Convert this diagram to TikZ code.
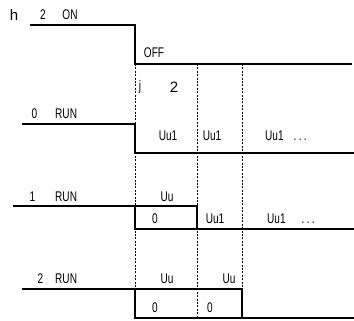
\documentclass[tikz,border=0pt]{standalone}
\usepackage{fontspec}
\setmainfont{Liberation Sans}[FakeStretch=0.72]
\newfontfamily\widefont{Liberation Sans}
\usetikzlibrary{positioning}

\tikzset{
	lbl/.style={inner sep=0pt, text centered, font=\fontsize{14}{14}\selectfont},
	wide/.style={inner sep=0pt, text centered, font=\widefont\fontsize{15}{15}\selectfont},
	sig/.style={line width=1.1pt},
	tick/.style={line width=1pt, dash pattern=on 2pt off 1.4pt}
}

\begin{document}
\begin{tikzpicture}[x=1pt, y=-1pt]
	\useasboundingbox (0,0) rectangle (354,321);
	     % nodes %
		 \node[wide] (h) at (14,15) {h};
		 \node[lbl] (two) at (43,15) {2};
		 \node[lbl] (on) at (70,15) {ON};
		 \node[lbl] (off) at (154,53) {OFF};
		 \node[lbl] (j) at (140,87) {j};
		 \node[wide] (jtwo) at (174,87) {2};
		 % RUN labels
		 \node[lbl] (n0) at (34.5,114) {0};
		 \node[lbl, anchor=west] (run0) at (55,114) {RUN};
		 \node[lbl] (n1) at (32.5,197) {1};
		 \node[lbl, anchor=west] (run1) at (55,197) {RUN};
		 \node[lbl] (n2) at (40.5,279) {2};
		 \node[lbl, anchor=west] (run2) at (55,279) {RUN};
		 % row 0
		 \node[lbl] (a1) at (168,136) {Uu1};
		 \node[lbl] (a2) at (212,136) {Uu1};
		 \node[lbl, anchor=west] (a3) at (265,136) {Uu1\hspace{10pt}.\,.\,.};
		 % row 1
		 \node[lbl] (b0) at (167,197) {Uu};
		 \node[lbl] (b1) at (155,219) {0};
		 \node[lbl] (b2) at (215,219) {Uu1};
		 \node[lbl, anchor=west] (b3) at (267,219) {Uu1\hspace{16pt}.\,.\,.};
		 % row 2
		 \node[lbl] (c0) at (167,279) {Uu};
		 \node[lbl] (c1) at (229,279) {Uu};
		 \node[lbl] (c2) at (155,308) {0};
		 \node[lbl] (c3) at (210,308) {0};

		 % corners %
		 \coordinate (t1) at (135,64);
		 \coordinate (t2) at (197,64);
		 \coordinate (t3) at (242,64);

		 % edges %
		 \draw[tick] (t1) -- (135,318);
		 \draw[tick] (t2) -- (197,318);
		 \draw[tick] (t3) -- (242,289);

		 \draw[sig] (30,25) -- (135,25) -- (t1) -- (352,64);
		 \draw[sig] (22,124) -- (135,124) -- (135,153) -- (354,153);
		 \draw[sig] (13,206) -- (197,206) -- (197,229);
		 \draw[sig] (135,206) -- (135,229) -- (354,229);
		 \draw[sig] (22,289) -- (242,289) -- (242,318);
		 \draw[sig] (135,289) -- (135,318) -- (354,318);
\end{tikzpicture}
\end{document}
